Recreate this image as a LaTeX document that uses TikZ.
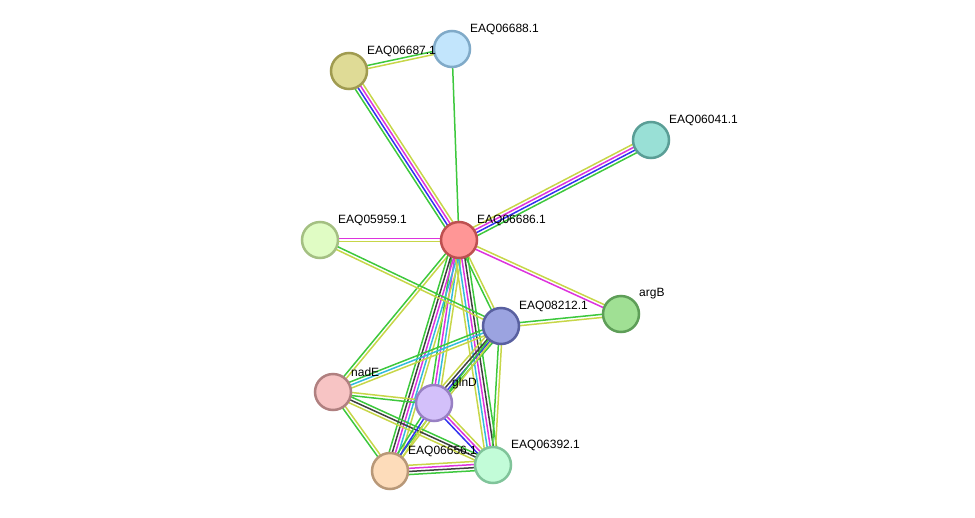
\documentclass[tikz,border=0pt]{standalone}
\usepackage{fontspec}
\setmainfont{Liberation Sans}
\usetikzlibrary{calc}
\pgfdeclarelayer{edges}
\pgfsetlayers{edges,main}
\definecolor{colG}{RGB}{61,200,61}
\definecolor{colY}{RGB}{199,214,72}
\definecolor{colM}{RGB}{221,51,221}
\definecolor{colB}{RGB}{50,50,240}
\definecolor{colK}{RGB}{64,64,64}
\definecolor{colC}{RGB}{51,187,221}
\tikzset{
  prot/.style={circle, minimum size=36pt, inner sep=0pt, line width=2.5pt},
  lbl/.style={anchor=west, inner sep=0pt, font=\fontsize{12}{14}\selectfont},
  edgeline/.style={line width=1.5pt}
}
\newcommand\bundle[4]{%
  \foreach \ecol [count=\ii] in {#4}{%
    \pgfmathsetmacro\off{(\ii-(#3+1)/2)*3.1}%
    \draw[edgeline,draw=col\ecol] ($(#1.center)!\off pt!90:(#2.center)$) -- ($(#2.center)!\off pt!-90:(#1.center)$);
  }}
\begin{document}
\begin{tikzpicture}[x=1pt,y=-1pt]
\useasboundingbox (0,0) rectangle (975,517);
% nodes
\node[prot, fill={rgb,255:red,255;green,150;blue,150}, draw={rgb,255:red,190;green,80;blue,80}] (A) at (459,240) {};
\node[prot, fill={rgb,255:red,223;green,219;blue,150}, draw={rgb,255:red,160;green,155;blue,80}] (P87) at (349,71) {};
\node[prot, fill={rgb,255:red,194;green,229;blue,252}, draw={rgb,255:red,128;green,170;blue,200}] (P88) at (452,49) {};
\node[prot, fill={rgb,255:red,153;green,224;blue,214}, draw={rgb,255:red,90;green,158;blue,150}] (P41) at (651,140) {};
\node[prot, fill={rgb,255:red,224;green,252;blue,196}, draw={rgb,255:red,164;green,192;blue,130}] (P59) at (320,240) {};
\node[prot, fill={rgb,255:red,160;green,224;blue,148}, draw={rgb,255:red,94;green,158;blue,88}] (argB) at (621,314) {};
\node[prot, fill={rgb,255:red,155;green,163;blue,224}, draw={rgb,255:red,89;green,96;blue,160}] (P12) at (501,326) {};
\node[prot, fill={rgb,255:red,247;green,196;blue,196}, draw={rgb,255:red,176;green,128;blue,128}] (nadE) at (333,392) {};
\node[prot, fill={rgb,255:red,211;green,192;blue,250}, draw={rgb,255:red,152;green,128;blue,196}] (glnD) at (434,403) {};
\node[prot, fill={rgb,255:red,253;green,220;blue,186}, draw={rgb,255:red,184;green,152;blue,120}] (P56) at (390,471) {};
\node[prot, fill={rgb,255:red,194;green,252;blue,216}, draw={rgb,255:red,128;green,196;blue,154}] (P92) at (493,465) {};
% labels
\node[lbl] (lA) at ($(A)+(18,-20)$) {EAQ06686.1};
\node[lbl] (l87) at ($(P87)+(18,-20)$) {EAQ06687.1};
\node[lbl] (l88) at ($(P88)+(18,-20)$) {EAQ06688.1};
\node[lbl] (l41) at ($(P41)+(18,-20)$) {EAQ06041.1};
\node[lbl] (l59) at ($(P59)+(18,-20)$) {EAQ05959.1};
\node[lbl] (largB) at ($(argB)+(18,-20)$) {argB};
\node[lbl] (l12) at ($(P12)+(18,-20)$) {EAQ08212.1};
\node[lbl] (lnadE) at ($(nadE)+(18,-20)$) {nadE};
\node[lbl] (lglnD) at ($(glnD)+(18,-20)$) {glnD};
\node[lbl] (l56) at ($(P56)+(18,-20)$) {EAQ06656.1};
\node[lbl] (l92) at ($(P92)+(18,-20)$) {EAQ06392.1};
% edges
\begin{pgfonlayer}{edges}
\bundle{A}{P87}{4}{Y,M,B,G}
\bundle{A}{P88}{1}{G}
\bundle{A}{P41}{4}{G,B,M,Y}
\bundle{A}{P59}{2}{M,Y}
\bundle{A}{argB}{2}{M,Y}
\bundle{A}{P12}{2}{G,Y}
\bundle{A}{nadE}{2}{G,Y}
\bundle{A}{glnD}{4}{G,M,C,Y}
\bundle{A}{P56}{5}{G,K,M,C,Y}
\bundle{A}{P92}{5}{Y,C,M,K,G}
\bundle{P87}{P88}{2}{Y,G}
\bundle{P59}{P12}{2}{Y,G}
\bundle{P12}{argB}{2}{Y,G}
\bundle{P12}{nadE}{3}{G,C,Y}
\bundle{P12}{glnD}{4}{Y,K,B,G}
\bundle{P12}{P56}{2}{G,Y}
\bundle{P12}{P92}{2}{G,Y}
\bundle{nadE}{glnD}{2}{G,Y}
\bundle{nadE}{P56}{2}{G,Y}
\bundle{nadE}{P92}{3}{Y,K,G}
\bundle{glnD}{P56}{3}{G,B,Y}
\bundle{glnD}{P92}{3}{B,M,Y}
\bundle{P56}{P92}{4}{G,K,M,Y}
\end{pgfonlayer}
\end{tikzpicture}
\end{document}
